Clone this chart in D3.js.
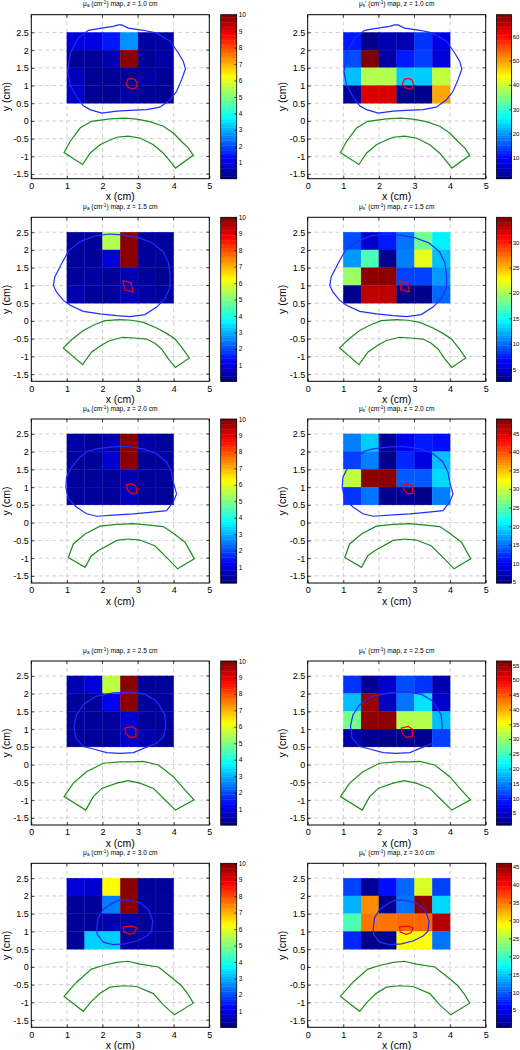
<!DOCTYPE html>
<html><head><meta charset="utf-8">
<script src="https://cdn.jsdelivr.net/npm/d3@7"></script>
<style>
body{margin:0;background:#fff}
svg{display:block}
text{font-family:"Liberation Sans",Arial,Helvetica,sans-serif;fill:#000}
</style>
</head><body>
<svg id="chart" width="520" height="1050"></svg>
<script>
// ---------------- DATA ----------------
const depths = ["1.0", "1.5", "2.0", "2.5", "3.0"];
const xEdges = [1, 1.5, 2, 2.5, 3, 3.5, 4];
const yEdges = [2.5, 2, 1.5, 1, 0.5];           // top -> bottom
const xTicks = [0, 1, 2, 3, 4, 5];
const yTicks = [2.5, 2, 1.5, 1, 0.5, 0, -0.5, -1, -1.5];

// absorption maps (cm^-1), rows top->bottom, columns left->right
const muaZ10 = [[0.9, 1.0, 1.5, 2.7, 0.4, 0.4],[0.25, 0.25, 0.5, 9.9, 0.25, 0.4],[0.6, 0.25, 0.25, 0.25, 0.4, 0.25],[0.75, 0.25, 0.25, 0.4, 0.25, 0.25]];
const muaZ15 = [[0.3, 0.3, 5.5, 9.9, 0.3, 0.3],[0.3, 0.3, 0.9, 9.9, 0.3, 0.3],[0.3, 0.4, 0.3, 0.5, 0.3, 0.2],[0.5, 0.3, 0.3, 0.6, 0.4, 0.3]];
const muaZ20 = [[0.4, 0.3, 0.5, 9.9, 0.4, 0.3],[0.3, 0.3, 0.8, 9.9, 0.3, 0.3],[0.3, 0.3, 0.3, 0.5, 0.3, 0.3],[0.3, 0.3, 0.3, 0.6, 0.3, 0.3]];
const muaZ25 = [[0.5, 0.9, 5.6, 9.9, 0.3, 0.3],[0.3, 0.3, 1.2, 9.9, 0.3, 0.3],[0.3, 0.3, 0.3, 0.8, 0.3, 0.3],[0.3, 0.3, 0.3, 0.7, 0.5, 0.3]];
const muaZ30 = [[0.9, 0.8, 6.3, 9.9, 0.3, 0.3],[0.3, 0.3, 2.5, 9.9, 0.3, 0.3],[0.3, 0.3, 0.5, 0.4, 0.3, 0.3],[0.3, 3.3, 3.3, 0.3, 0.4, 0.3]];
// reduced scattering maps (cm^-1)
const musZ10 = [[11.5, 2.2, 4.8, 4.8, 13.2, 8.2],[14.9, 68.9, 3.9, 11.5, 14.0, 7.3],[22.4, 38.5, 38.5, 23.3, 23.3, 39.4],[3.1, 63.0, 63.0, 2.2, 2.2, 49.5]];
const musZ15 = [[9.1, 5.0, 7.4, 10.3, 18.3, 14.3],[11.5, 17.1, 3.0, 10.7, 22.0, 12.7],[19.6, 34.5, 34.5, 8.7, 8.7, 11.5],[3.0, 32.9, 32.9, 3.0, 3.0, 9.9]];
const musZ20 = [[15.7, 19.0, 5.8, 9.7, 11.3, 10.8],[13.0, 15.7, 5.2, 11.9, 9.1, 18.5],[29.5, 48.3, 48.3, 14.1, 14.1, 19.6],[12.4, 15.2, 5.2, 5.8, 5.2, 15.7]];
const musZ25 = [[10.6, 2.3, 5.1, 12.0, 10.6, 3.7],[18.2, 55.0, 4.4, 14.1, 20.3, 5.1],[28.0, 55.7, 55.7, 31.4, 31.4, 18.2],[3.0, 1.6, 1.6, 1.6, 1.6, 11.3]];
const musZ30 = [[8.8, 1.3, 6.5, 10.5, 27.1, 8.8],[13.9, 33.9, 0.8, 11.1, 45.3, 15.6],[20.8, 35.0, 35.0, 35.6, 35.6, 43.6],[7.6, 0.8, 0.8, 28.8, 28.8, 11.1]];

// colour-bar limits and tick labels
const muaRange = [0.03, 10];
const muaBarTicks = [1, 2, 3, 4, 5, 6, 7, 8, 9, 10];
const musRanges = [[1.4, 68.9], [2.6, 34.9], [4.7, 48.8], [0.9, 56.4], [0.2, 45.9]];
const musBarTicks = [[10, 20, 30, 40, 50, 60], [5, 10, 15, 20, 25, 30], [5, 10, 15, 20, 25, 30, 35, 40, 45], [5, 10, 15, 20, 25, 30, 35, 40, 45, 50, 55], [5, 10, 15, 20, 25, 30, 35, 40, 45]];

// outlines (x, y in cm)
const blueZ10 = [[2.44,2.71],[2.54,2.71],[2.72,2.62],[3.15,2.56],[3.52,2.48],[3.9,2.25],[4.13,1.92],[4.27,1.68],[4.33,1.47],[4.22,1.16],[4.08,0.83],[3.9,0.6],[3.61,0.39],[3.24,0.32],[2.77,0.3],[2.4,0.28],[1.98,0.22],[1.65,0.32],[1.46,0.43],[1.27,0.69],[1.09,1.02],[1.02,1.4],[1.1,1.92],[1.32,2.34],[1.6,2.56],[2.02,2.63],[2.3,2.67]];
const blueZ15 = [[2.2,2.45],[2.6,2.42],[3.0,2.35],[3.4,2.2],[3.7,1.95],[3.85,1.65],[3.9,1.3],[3.9,0.95],[3.75,0.62],[3.52,0.39],[3.19,0.18],[2.77,0.12],[2.4,0.15],[1.93,0.2],[1.46,0.27],[1.09,0.44],[0.9,0.58],[0.71,0.81],[0.62,1.0],[0.66,1.24],[0.85,1.61],[1.06,1.99],[1.4,2.25],[1.8,2.4]];
const blueZ20 = [[1.84,2.08],[2.21,2.13],[2.68,2.15],[3.15,2.08],[3.52,1.94],[3.8,1.71],[3.94,1.42],[3.99,1.14],[4.08,0.81],[3.99,0.58],[3.8,0.34],[3.33,0.29],[2.87,0.25],[2.4,0.22],[1.84,0.18],[1.55,0.25],[1.27,0.44],[1.04,0.67],[0.97,1.0],[0.99,1.28],[1.13,1.56],[1.37,1.85],[1.6,2.02]];
const blueZ25 = [[2.3,2.02],[2.8,2.05],[3.2,1.98],[3.5,1.8],[3.61,1.64],[3.75,1.4],[3.78,1.08],[3.71,0.79],[3.52,0.6],[3.15,0.46],[2.87,0.34],[2.49,0.32],[2.12,0.34],[1.74,0.44],[1.46,0.51],[1.25,0.75],[1.2,1.08],[1.27,1.4],[1.46,1.69],[1.8,1.92]];
const blueZ30 = [[2.68,1.89],[3.05,1.81],[3.29,1.62],[3.41,1.29],[3.38,1.01],[3.24,0.87],[2.96,0.73],[2.63,0.65],[2.3,0.63],[2.02,0.7],[1.85,0.92],[1.84,1.1],[1.88,1.39],[2.02,1.62],[2.26,1.79],[2.44,1.87]];
const redZ10 = [[2.72,1.18],[2.85,1.2],[2.93,1.15],[2.98,1.02],[2.93,0.93],[2.83,0.9],[2.72,0.95],[2.66,1.05]];
const redZ15 = [[2.58,1.13],[2.8,1.08],[2.86,0.82],[2.62,0.87]];
const redZ20 = [[2.68,1.07],[2.82,1.09],[2.94,1.03],[2.96,0.83],[2.82,0.81],[2.7,0.92]];
const redZ25 = [[2.63,1.03],[2.82,1.08],[2.94,1.0],[2.94,0.79],[2.77,0.77],[2.65,0.89]];
const redZ30 = [[2.58,1.13],[2.82,1.15],[2.96,1.1],[2.9,0.96],[2.77,0.92],[2.6,0.98]];
const greenZ10 = [[0.92,-0.89],[1.09,-0.58],[1.37,-0.2],[1.69,-0.01],[2.21,0.06],[2.63,0.08],[2.96,0.05],[3.33,-0.02],[3.71,-0.15],[3.99,-0.34],[4.22,-0.58],[4.41,-0.76],[4.55,-0.97],[4.05,-1.33],[3.9,-1.14],[3.71,-0.91],[3.43,-0.67],[3.05,-0.48],[2.72,-0.43],[2.4,-0.46],[2.12,-0.58],[1.93,-0.67],[1.65,-0.91],[1.44,-1.23]];
const greenZ15 = [[0.9,-0.76],[1.13,-0.53],[1.46,-0.27],[1.79,-0.1],[2.07,0.01],[2.49,0.04],[2.82,0.02],[3.15,-0.04],[3.52,-0.2],[3.8,-0.35],[4.04,-0.51],[4.22,-0.74],[4.44,-1.04],[4.05,-1.31],[3.85,-1.07],[3.66,-0.79],[3.47,-0.63],[3.24,-0.51],[2.87,-0.48],[2.58,-0.46],[2.21,-0.55],[1.98,-0.68],[1.69,-0.88],[1.44,-1.23]];
const greenZ20 = [[1.04,-0.98],[1.18,-0.6],[1.51,-0.32],[1.93,-0.1],[2.4,-0.05],[2.87,-0.03],[3.24,-0.06],[3.71,-0.11],[3.99,-0.3],[4.32,-0.55],[4.58,-1.02],[4.11,-1.3],[3.8,-0.98],[3.47,-0.65],[3.05,-0.49],[2.72,-0.46],[2.4,-0.5],[1.88,-0.79],[1.69,-0.93],[1.51,-1.26]];
const greenZ25 = [[0.92,-0.9],[1.18,-0.52],[1.55,-0.2],[2.02,0.04],[2.49,0.08],[2.87,0.08],[3.15,0.09],[3.57,-0.01],[3.99,-0.34],[4.25,-0.64],[4.57,-0.99],[4.05,-1.28],[3.75,-0.99],[3.43,-0.67],[3.05,-0.52],[2.72,-0.45],[2.4,-0.52],[1.98,-0.67],[1.74,-0.9],[1.53,-1.28]];
const greenZ30 = [[0.92,-0.83],[1.27,-0.43],[1.69,-0.06],[2.02,0.04],[2.4,0.13],[2.72,0.16],[3.05,0.08],[3.57,0.0],[3.9,-0.26],[4.22,-0.53],[4.41,-0.78],[4.55,-1.02],[4.02,-1.35],[3.71,-1.07],[3.43,-0.75],[2.96,-0.55],[2.58,-0.53],[2.21,-0.57],[1.93,-0.74],[1.69,-0.97],[1.46,-1.25]];

// ---------------- LAYOUT ----------------
const muaMaps = [muaZ10, muaZ15, muaZ20, muaZ25, muaZ30];
const musMaps = [musZ10, musZ15, musZ20, musZ25, musZ30];
const blues = [blueZ10, blueZ15, blueZ20, blueZ25, blueZ30];
const reds = [redZ10, redZ15, redZ20, redZ25, redZ30];
const greens = [greenZ10, greenZ15, greenZ20, greenZ25, greenZ30];

const rowTops = [14.7, 217.3, 419, 661, 863.3];
const rowYDomains = [[-1.63, 3.0], [-1.70, 2.92], [-1.70, 2.92], [-1.70, 2.92], [-1.70, 2.92]];
const colLefts = [31.3, 307.7];
const frameW = 178, frameH = 164;
const cbOffsets = [189.4, 188.8], cbWs = [16, 15];

function jet(t) {
  t = Math.max(0, Math.min(1, t));
  const c = v => Math.round(255 * Math.max(0, Math.min(1, v)));
  const r = c(1.5 - Math.abs(4 * t - 3));
  const g = c(1.5 - Math.abs(4 * t - 2));
  const b = c(1.5 - Math.abs(4 * t - 1));
  return `rgb(${r},${g},${b})`;
}

const svg = d3.select("#chart");

function drawPanel(row, col) {
  const left = colLefts[col], top = rowTops[row];
  const values = col === 0 ? muaMaps[row] : musMaps[row];
  const range = col === 0 ? muaRange : musRanges[row];
  const barTicks = col === 0 ? muaBarTicks : musBarTicks[row];
  const x = d3.scaleLinear().domain([0, 5]).range([0, frameW]);
  const y = d3.scaleLinear().domain(rowYDomains[row]).range([frameH, 0]);
  const color = d3.scaleSequential(jet).domain(range);
  const cbW = cbWs[col];

  const g = svg.append("g").attr("transform", `translate(${left},${top})`);

  // title
  const title = g.append("text").attr("x", frameW / 2).attr("y", -8.3)
    .attr("text-anchor", "middle").style("font-size", "6.6px");
  title.append("tspan").text("\u03bc");
  title.append("tspan").attr("baseline-shift", "-25%").style("font-size", "4.6px").text(col === 0 ? "a" : "s");
  title.append("tspan").text((col === 0 ? "" : "'") + " (cm");
  title.append("tspan").attr("baseline-shift", "40%").style("font-size", "4.6px").text("-1");
  title.append("tspan").text(`) map, z = ${depths[row]} cm`);

  // grid
  const grid = g.append("g").attr("stroke", "#c4c4c4").attr("stroke-width", 0.8).attr("stroke-dasharray", "4,3");
  grid.selectAll("line.gx").data(xTicks.filter(d => d > 0 && d < 5)).join("line")
    .attr("x1", d => x(d)).attr("x2", d => x(d)).attr("y1", 0).attr("y2", frameH);
  grid.selectAll("line.gy").data(yTicks).join("line")
    .attr("x1", 0).attr("x2", frameW).attr("y1", d => y(d)).attr("y2", d => y(d));

  // heat map cells
  const cells = [];
  values.forEach((r, i) => r.forEach((v, j) => cells.push({ i, j, v })));
  g.append("g").selectAll("rect").data(cells).join("rect")
    .attr("x", d => x(xEdges[d.j]))
    .attr("y", d => y(yEdges[d.i]))
    .attr("width", d => x(xEdges[d.j + 1]) - x(xEdges[d.j]))
    .attr("height", d => y(yEdges[d.i + 1]) - y(yEdges[d.i]))
    .attr("fill", d => color(d.v))
    .attr("stroke", d => color(d.v)).attr("stroke-width", 0.3);

  // outlines
  const line = d3.line().x(d => x(d[0])).y(d => y(d[1])).curve(d3.curveLinearClosed);
  g.append("path").attr("d", line(greens[row])).attr("fill", "none").attr("stroke", "#1e8c1e").attr("stroke-width", 1.2);
  g.append("path").attr("d", line(blues[row])).attr("fill", "none").attr("stroke", "#1f2dff").attr("stroke-width", 1.2);
  g.append("path").attr("d", line(reds[row])).attr("fill", "none").attr("stroke", "#ff0000").attr("stroke-width", 1.2);

  // axes
  const ax = g.append("g").attr("transform", `translate(0,${frameH})`)
    .call(d3.axisBottom(x).tickValues(xTicks).tickSizeInner(-3).tickSizeOuter(0).tickPadding(4).tickFormat(d => String(d)));
  const ay = g.append("g")
    .call(d3.axisLeft(y).tickValues(yTicks).tickSizeInner(-3).tickSizeOuter(0).tickPadding(2.5).tickFormat(d => String(d)));
  [ax, ay].forEach(a => {
    a.select(".domain").remove();
    a.selectAll("text").style("font-size", "9px").attr("fill", "#000");
    a.selectAll("line").attr("stroke", "#000").attr("stroke-width", 0.7);
  });
  // mirrored ticks
  g.append("g").selectAll("line").data(xTicks).join("line")
    .attr("x1", d => x(d)).attr("x2", d => x(d)).attr("y1", 0).attr("y2", 3).attr("stroke", "#000").attr("stroke-width", 0.7);
  g.append("g").selectAll("line").data(yTicks).join("line")
    .attr("x1", frameW).attr("x2", frameW - 3).attr("y1", d => y(d)).attr("y2", d => y(d)).attr("stroke", "#000").attr("stroke-width", 0.7);

  // frame
  g.append("rect").attr("width", frameW).attr("height", frameH).attr("fill", "none").attr("stroke", "#000").attr("stroke-width", 1);

  // axis labels
  g.append("text").attr("x", frameW / 2).attr("y", frameH + 21.5).attr("text-anchor", "middle")
    .style("font-size", "10.5px").text("x (cm)");
  g.append("text").attr("transform", `translate(-21.5,${frameH / 2}) rotate(-90)`).attr("text-anchor", "middle")
    .style("font-size", "10.5px").text("y (cm)");

  // colour bar
  const cb = g.append("g").attr("transform", `translate(${cbOffsets[col]},0)`);
  const cy = d3.scaleLinear().domain(range).range([frameH, 0]);
  const n = 64;
  const steps = d3.range(n).map(k => range[0] + (range[1] - range[0]) * (k + 0.5) / n);
  const stepH = frameH / n;
  cb.selectAll("rect.s").data(steps).join("rect")
    .attr("x", 0).attr("width", cbW)
    .attr("y", d => cy(d) - stepH / 2).attr("height", stepH + 0.4)
    .attr("fill", d => color(d));
  cb.append("rect").attr("width", cbW).attr("height", frameH).attr("fill", "none").attr("stroke", "#000").attr("stroke-width", 0.8);
  const cax = cb.append("g").attr("transform", `translate(${cbW},0)`)
    .call(d3.axisRight(cy).tickValues(barTicks).tickSizeInner(-2.5).tickSizeOuter(0).tickPadding(col === 0 ? 2 : 1.2).tickFormat(d => String(d)));
  cax.select(".domain").remove();
  cax.selectAll("text").style("font-size", col === 0 ? "6.5px" : "6px").attr("fill", "#000");
  cax.selectAll("line").attr("stroke", "#000").attr("stroke-width", 0.6);
}

for (let r = 0; r < 5; r++) { drawPanel(r, 0); drawPanel(r, 1); }
</script>
</body></html>
